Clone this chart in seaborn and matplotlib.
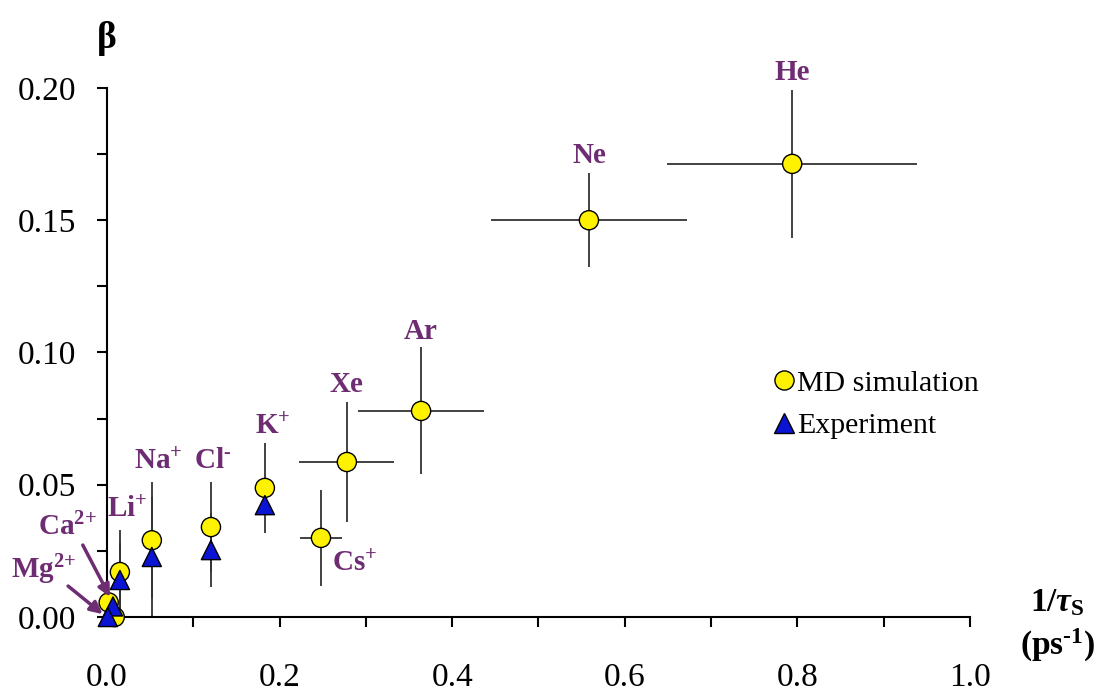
import numpy as np
import pandas as pd
import matplotlib
matplotlib.use("Agg")
import matplotlib.pyplot as plt
from matplotlib.ticker import MultipleLocator, FormatStrFormatter
import seaborn as sns

# ---------------- data ----------------
md_labels = ["He", "Ne", "Ar", "Xe", "Cs+", "K+", "Cl-", "Na+", "Li+", "Ca2+", "Mg2+"]
md_x = [0.794, 0.5585, 0.364, 0.278, 0.248, 0.183, 0.1205, 0.052, 0.015, 0.002, 0.009]
md_y = [0.1713, 0.150, 0.0779, 0.0586, 0.0299, 0.0488, 0.034, 0.029, 0.017, 0.0055, 0.0]
md_xerr = [0.145, 0.1135, 0.073, 0.055, 0.024, 0, 0, 0, 0, 0, 0]
md_yerr = [0.028, 0.0178, 0.024, 0.0225, 0.018, 0.017, 0.017, 0.022, 0.016, 0, 0]

exp_labels = ["K+", "Cl-", "Na+", "Li+", "Ca2+", "Mg2+"]
exp_x = [0.183, 0.1205, 0.052, 0.015, 0.007, 0.001]
exp_y = [0.0423, 0.0253, 0.0227, 0.014, 0.004, 0.0]
exp_yerr = [0.0, 0.014, 0.0227, 0.014, 0, 0]

label_text = {
    "He": "He", "Ne": "Ne", "Ar": "Ar", "Xe": "Xe",
    "Cs+": "Cs$^{{+}}$", "K+": "K$^{{+}}$", "Cl-": "Cl$^{\u2010}$", "Na+": "Na$^{{+}}$",
    "Li+": "Li$^{{+}}$", "Ca2+": "Ca$^{2{+}}$", "Mg2+": "Mg$^{2{+}}$",
}
label_pos = {
    "He": (0.794, 0.2057), "Ne": (0.5585, 0.1743), "Ar": (0.364, 0.108),
    "Xe": (0.278, 0.088), "Cs+": (0.287, 0.0204), "K+": (0.192, 0.0722),
    "Cl-": (0.122, 0.059), "Na+": (0.059, 0.059), "Li+": (0.023, 0.0405),
    "Ca2+": (-0.046, 0.034), "Mg2+": (-0.073, 0.0178),
}
arrows = {
    "Ca2+": ((-0.028, 0.0272), (0.0035, 0.0076)),
    "Mg2+": ((-0.045, 0.0117), (-0.005, 0.0011)),
}

x_ticks = [0.0, 0.2, 0.4, 0.6, 0.8, 1.0]
y_ticks = [0.00, 0.05, 0.10, 0.15, 0.20]

df = pd.DataFrame({
    "x": md_x + exp_x,
    "y": md_y + exp_y,
    "source": ["MD simulation"] * len(md_x) + ["Experiment"] * len(exp_x),
})

# ---------------- style ----------------
sns.set_style("white")
plt.rcParams["font.family"] = ["Liberation Serif", "DejaVu Serif"]
plt.rcParams["mathtext.fontset"] = "custom"
plt.rcParams["mathtext.rm"] = "Liberation Serif:bold"
plt.rcParams["mathtext.bf"] = "Liberation Serif:bold"
plt.rcParams["mathtext.it"] = "Liberation Serif:italic:bold"
plt.rcParams["text.color"] = "black"
plt.rcParams["xtick.color"] = "black"
plt.rcParams["ytick.color"] = "black"

purple = "#6E2C72"

fig = plt.figure(figsize=(11.06, 6.96), dpi=100)
ax = fig.add_axes([0.0967, 0.1135, 0.7803, 0.7601])

ax.errorbar(md_x, md_y, xerr=md_xerr, yerr=md_yerr, fmt="none",
            ecolor="#333333", elinewidth=1.3, capsize=0, zorder=2, clip_on=False)
ax.errorbar(exp_x, exp_y, yerr=exp_yerr, fmt="none",
            ecolor="#333333", elinewidth=1.3, capsize=0, zorder=2, clip_on=False)

sns.scatterplot(data=df, x="x", y="y", hue="source", style="source",
                palette={"MD simulation": "#FFF200", "Experiment": "#0A14D2"},
                markers={"MD simulation": "o", "Experiment": "^"},
                s=190, edgecolor="black", linewidth=1.0, zorder=3,
                clip_on=False, ax=ax)

for key in md_labels:
    px, py = label_pos[key]
    ax.text(px, py, label_text[key], color=purple, fontsize=21, fontweight="bold",
            ha="center", va="center", clip_on=False)

for key, (start, end) in arrows.items():
    ax.annotate("", xy=end, xytext=start,
                arrowprops=dict(arrowstyle="-|>", color=purple, lw=2.5,
                                mutation_scale=18, shrinkA=0, shrinkB=0),
                annotation_clip=False)

ax.set_xlim(0, 1.0)
ax.set_ylim(0, 0.20)
ax.set_xticks(x_ticks)
ax.set_yticks(y_ticks)
ax.xaxis.set_minor_locator(MultipleLocator(0.1))
ax.yaxis.set_minor_locator(MultipleLocator(0.025))
ax.xaxis.set_major_formatter(FormatStrFormatter("%.1f"))
ax.yaxis.set_major_formatter(FormatStrFormatter("%.2f"))
ax.tick_params(axis="both", which="both", direction="out", length=7, width=1.5,
               color="black", labelcolor="black", labelsize=24, bottom=True, left=True)
ax.tick_params(axis="x", which="major", pad=26)
ax.tick_params(axis="y", which="major", pad=15)

for side in ["top", "right"]:
    ax.spines[side].set_visible(False)
for side in ["left", "bottom"]:
    ax.spines[side].set_linewidth(1.5)
    ax.spines[side].set_color("black")

ax.set_xlabel("")
ax.set_ylabel("")
fig.text(107 / 1106, 1 - 38 / 696, "β", fontsize=27, fontweight="bold",
         ha="center", va="center", color="black")
fig.text(1057 / 1106, 1 - 603 / 696, r"1/$\mathit{\tau}_{\mathrm{S}}$", fontsize=24,
         fontweight="bold", ha="center", va="center", color="black")
fig.text(1057 / 1106, 1 - 645 / 696, "(ps$^{\u20101}$)", fontsize=24,
         fontweight="bold", ha="center", va="center", color="black")

leg = ax.legend(loc="center left", bbox_to_anchor=(0.760, 0.402), frameon=False,
                fontsize=21.5, handletextpad=0.1, labelspacing=0.52,
                borderaxespad=0, handlelength=0.65, labelcolor="black")

fig.savefig("out.png", dpi=100)
